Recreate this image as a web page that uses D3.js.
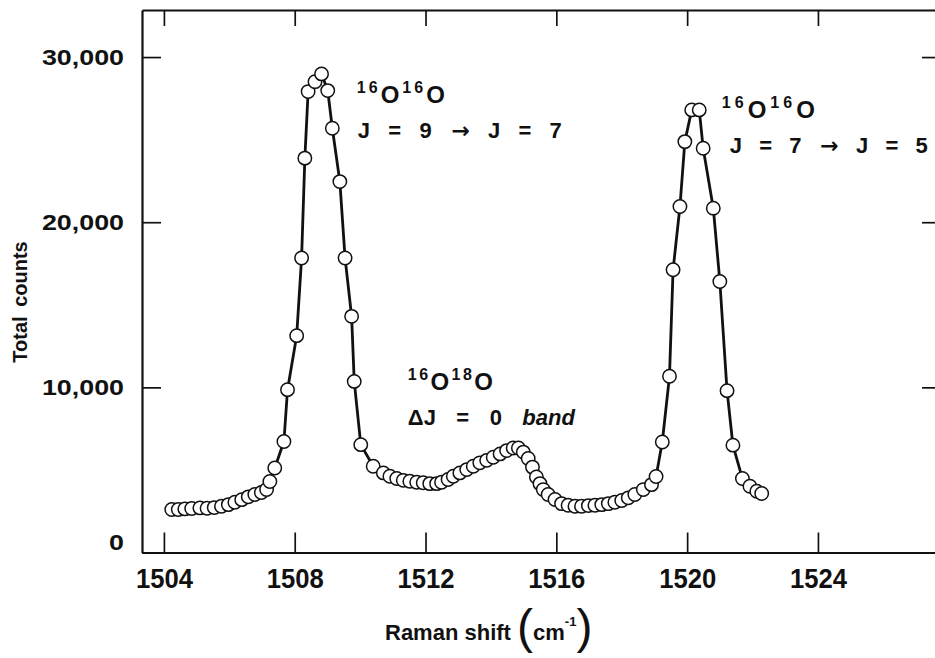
<!DOCTYPE html>
<html>
<head>
<meta charset="utf-8">
<script src="https://cdn.jsdelivr.net/npm/d3@7"></script>
<style>
  body { margin: 0; background: #fff; }
  svg text { font-family: "Liberation Sans", Arial, sans-serif; font-weight: bold; fill: #111; }
  .axis .domain { stroke: #111; stroke-width: 2.2; }
  .axis .tick line { stroke: #111; stroke-width: 1.7; }
</style>
</head>
<body>
<svg id="chart"></svg>
<script>
// Raman shift of each recorded point (cm-1)
var ramanShift = [
  1504.24, 1504.44, 1504.64, 1504.85, 1505.10, 1505.32, 1505.54, 1505.76, 1505.97, 1506.17,
  1506.38, 1506.58, 1506.78, 1506.98, 1507.14, 1507.24, 1507.39, 1507.67, 1507.78, 1508.06,
  1508.21, 1508.31, 1508.41, 1508.62, 1508.82, 1509.01, 1509.15, 1509.38, 1509.54, 1509.74,
  1509.82, 1510.02, 1510.40, 1510.71, 1510.91, 1511.12, 1511.32, 1511.52, 1511.73, 1511.93,
  1512.13, 1512.34, 1512.49, 1512.69, 1512.85, 1513.05, 1513.26, 1513.46, 1513.66, 1513.87,
  1514.07, 1514.28, 1514.48, 1514.68, 1514.84, 1514.99, 1515.14, 1515.27, 1515.39, 1515.50,
  1515.60, 1515.75, 1515.96, 1516.16, 1516.36, 1516.57, 1516.77, 1516.98, 1517.18, 1517.39,
  1517.59, 1517.79, 1518.00, 1518.20, 1518.40, 1518.66, 1518.91, 1519.05, 1519.24, 1519.46,
  1519.57, 1519.78, 1519.93, 1520.14, 1520.37, 1520.49, 1520.80, 1521.00, 1521.22, 1521.40,
  1521.69, 1521.92, 1522.13, 1522.28
];

// Total counts at each point
var totalCounts = [
  2600, 2600, 2640, 2660, 2700, 2680, 2720, 2800, 2900, 3040,
  3200, 3370, 3510, 3630, 3810, 4300, 5120, 6720, 9860, 13130,
  17830, 23880, 27910, 28510, 28980, 27970, 25690, 22460, 17830, 14300,
  10360, 6530, 5220, 4820, 4620, 4480, 4370, 4310, 4250, 4220,
  4170, 4170, 4250, 4420, 4620, 4820, 5020, 5220, 5430, 5580,
  5770, 5970, 6170, 6330, 6330, 6080, 5690, 5170, 4570, 4170,
  3810, 3510, 3210, 2960, 2860, 2800, 2800, 2840, 2860, 2900,
  2960, 3040, 3150, 3310, 3510, 3810, 4110, 4600, 6690, 10670,
  17120, 20950, 24880, 26800, 26800, 24480, 20850, 16410, 9800, 6500,
  4480, 4010, 3710, 3570
];

var xTickValues = [1504, 1508, 1512, 1516, 1520, 1524];
var yTickValues = [0, 10000, 20000, 30000];

// Band annotations: isotope pair, transition text, anchor (shift, counts)
var labelIsotopes = [["16", "16"], ["16", "16"], ["16", "18"]];
var labelTransitions = ["J = 9 \u2192 J = 7", "J = 7 \u2192 J = 5", "\u0394J = 0 band"];
var labelShift = [1509.90, 1521.06, 1511.46];
var labelCounts = [27220, 26310, 9840];

var width = 935, height = 658;

var svg = d3.select("#chart")
    .attr("width", width)
    .attr("height", height);

var x = d3.scaleLinear()
          .domain([1503.33, 1527.61])
          .range([142, 936]);

var y = d3.scaleLinear()
          .domain([0, 32850])
          .range([552.5, 10]);

// Frame with inward ticks
svg.append("g")
    .attr("class", "axis x-bottom")
    .attr("transform", "translate(0," + y(0) + ")")
    .call(d3.axisBottom(x).tickValues(xTickValues).tickSize(-20).tickSizeOuter(0)
            .tickPadding(16).tickFormat(d3.format("d")));

svg.append("g")
    .attr("class", "axis")
    .attr("transform", "translate(0," + y.range()[1] + ")")
    .call(d3.axisTop(x).tickValues(xTickValues).tickSize(-16).tickSizeOuter(0).tickFormat(""));

svg.append("g")
    .attr("class", "axis y-left")
    .attr("transform", "translate(" + x.range()[0] + ",0)")
    .call(d3.axisLeft(y).tickValues(yTickValues).tickSize(-19).tickSizeOuter(0)
            .tickPadding(18).tickFormat(d3.format(",")));

// right side of the frame sits just past the page edge, only its ticks show
svg.append("g")
    .attr("class", "axis")
    .attr("transform", "translate(" + (x.range()[1] + 3) + ",0)")
    .call(d3.axisRight(y).tickValues(yTickValues.slice(1)).tickSize(-17).tickSizeOuter(0).tickFormat(""));

svg.selectAll(".x-bottom .tick text")
    .attr("font-size", 27)
    .attr("textLength", 57)
    .attr("lengthAdjust", "spacingAndGlyphs");

svg.selectAll(".y-left .tick text")
    .attr("font-size", 22)
    .each(function(d) {
      var t = d3.select(this);
      t.attr("textLength", this.getComputedTextLength() * 1.22)
       .attr("lengthAdjust", "spacingAndGlyphs");
      if (d === 0) t.attr("transform", "translate(0,-10)");
    });

// Axis titles
svg.append("text")
    .attr("transform", "translate(27,302) rotate(-90)")
    .attr("text-anchor", "middle")
    .attr("font-size", 20)
    .attr("word-spacing", 4)
    .text("Total counts");

var xTitle = svg.append("text")
    .attr("x", 385)
    .attr("y", 640)
    .attr("font-size", 22);
xTitle.append("tspan").text("Raman shift ");
xTitle.append("tspan").attr("font-size", 48).attr("font-weight", "normal").attr("dy", 3).text("(");
xTitle.append("tspan").attr("dy", -3).text("cm");
xTitle.append("tspan").attr("font-size", 13).attr("dy", -14).text("-1");
xTitle.append("tspan").attr("font-size", 48).attr("font-weight", "normal").attr("dy", 17).text(")");

// Measured curve
var points = ramanShift.map(function(s, i) { return [s, totalCounts[i]]; });

var line = d3.line()
             .x(function(d) { return x(d[0]); })
             .y(function(d) { return y(d[1]); });

svg.append("path")
    .datum(points)
    .attr("d", line)
    .attr("fill", "none")
    .attr("stroke", "#111")
    .attr("stroke-width", 2.8)
    .attr("stroke-linejoin", "round");

svg.selectAll(".pt")
    .data(points)
  .enter()
  .append("circle")
    .classed("pt", true)
    .attr("cx", function(d) { return x(d[0]); })
    .attr("cy", function(d) { return y(d[1]); })
    .attr("r", 6.7)
    .attr("fill", "#fff")
    .attr("stroke", "#111")
    .attr("stroke-width", 1.5);

// Band labels
var line1Width = [88, 93, 85];
var line2Width = [204, 198, 167];
var line2Dx = [1, 8, 0];

labelTransitions.forEach(function(tr, i) {
  var lx = x(labelShift[i]), ly = y(labelCounts[i]);

  var t1 = svg.append("text")
      .attr("x", lx)
      .attr("y", ly)
      .attr("font-size", 24)
      .attr("textLength", line1Width[i])
      .attr("lengthAdjust", "spacing");
  t1.append("tspan").attr("font-size", 16).attr("dy", -10).text(labelIsotopes[i][0]);
  t1.append("tspan").attr("dy", 10).text("O");
  t1.append("tspan").attr("font-size", 16).attr("dy", -10).text(labelIsotopes[i][1]);
  t1.append("tspan").attr("dy", 10).text("O");

  var t2 = svg.append("text")
      .attr("x", lx + line2Dx[i])
      .attr("y", ly + 35)
      .attr("font-size", 22);
  tr.split(" ").forEach(function(word, k) {
    var sp = t2.append("tspan").text((k > 0 ? " " : "") + word);
    if (word === "\u2192") sp.attr("font-family", "DejaVu Sans");
    if (word === "band") sp.attr("font-style", "italic");
  });
  // spread the words so the line spans the same width as the original
  var gaps = tr.split(" ").length - 1;
  var natural = t2.node().getComputedTextLength();
  t2.attr("word-spacing", (line2Width[i] - natural) / gaps);
});
</script>
</body>
</html>
